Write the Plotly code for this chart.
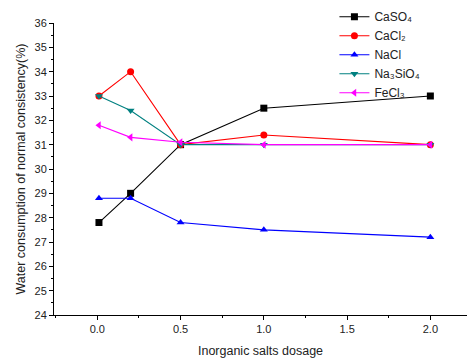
import plotly.graph_objects as go

dosage = [0.01, 0.2, 0.5, 1.0, 2.0]
series_names = ["CaSO₄", "CaCl₂", "NaCl", "Na₃SiO₄", "FeCl₃"]
caso4 = [27.8, 29.0, 31.0, 32.5, 33.0]
cacl2 = [33.0, 34.0, 31.0, 31.4, 31.0]
nacl = [28.8, 28.8, 27.8, 27.5, 27.2]
na3sio4 = [33.0, 32.4, 31.0, 31.0, 31.0]
fecl3 = [31.8, 31.3, 31.1, 31.0, 31.0]
y_ticks = list(range(24, 37))
x_ticks = [0.0, 0.5, 1.0, 1.5, 2.0]

styles = [
    ("black", "square"),
    ("red", "circle"),
    ("blue", "triangle-up"),
    ("#008080", "triangle-down"),
    ("#ff00ff", "triangle-left"),
]

fig = go.Figure()
for name, vals, (col, sym) in zip(series_names, [caso4, cacl2, nacl, na3sio4, fecl3], styles):
    fig.add_trace(go.Scatter(
        x=dosage, y=vals, name=name, mode="lines+markers",
        line=dict(color=col, width=1.1),
        marker=dict(color=col, symbol=sym, size=7),
    ))

fig.update_layout(
    width=467, height=359,
    margin=dict(l=54, r=0, t=23, b=44, autoexpand=False),
    plot_bgcolor="white", paper_bgcolor="white",
    font=dict(family="Liberation Sans, Arial, sans-serif", size=11, color="#222"),
    legend=dict(x=0.679, y=1.071, xanchor="left", yanchor="top",
                font=dict(size=12), bgcolor="rgba(0,0,0,0)",
                tracegroupgap=0, itemwidth=30),
    showlegend=True,
)
fig.update_xaxes(
    range=[-0.26, 2.22], tickvals=x_ticks, ticktext=[f"{v:.1f}" for v in x_ticks],
    showline=True, linecolor="black", linewidth=1, mirror=False,
    ticks="outside", ticklen=4, tickcolor="black", showgrid=False, zeroline=False,
    minor=dict(dtick=0.25, ticks="outside", ticklen=2, tickcolor="black"),
    title=dict(text="Inorganic salts dosage", font=dict(size=12.5), standoff=12),
)
fig.update_yaxes(
    range=[24, 36], tickvals=y_ticks,
    showline=True, linecolor="black", linewidth=1, mirror=False,
    ticks="outside", ticklen=4, tickcolor="black", showgrid=False, zeroline=False,
    minor=dict(dtick=0.5, ticks="outside", ticklen=2, tickcolor="black"),
    title=dict(text="Water consumption of normal consistency(%)", font=dict(size=12.5), standoff=6),
)
fig.write_html("out.html", config={"displayModeBar": False},
               post_script="document.body.style.margin='0';")
